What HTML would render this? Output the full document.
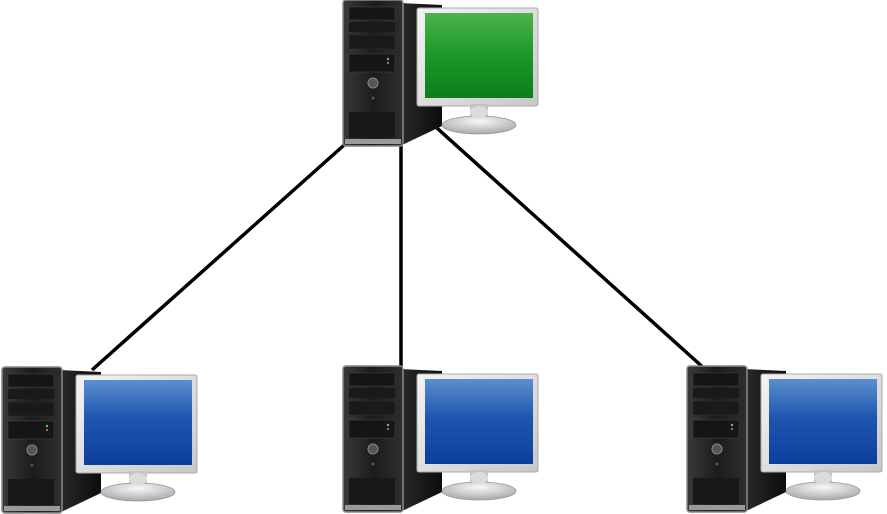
<!DOCTYPE html>
<html><head><meta charset="utf-8"><style>html,body{margin:0;padding:0;background:#fff}svg{display:block}</style></head>
<body>
<svg width="887" height="514" viewBox="0 0 887 514" xmlns="http://www.w3.org/2000/svg">
<defs>
<linearGradient id="side" x1="0" x2="1"><stop offset="0" stop-color="#2a2a2a"/><stop offset="1" stop-color="#0c0c0c"/></linearGradient>
<linearGradient id="front" x1="0" x2="1"><stop offset="0" stop-color="#3a3a3a"/><stop offset="0.5" stop-color="#1c1c1c"/><stop offset="1" stop-color="#2e2e2e"/></linearGradient>
<linearGradient id="frame" x1="0" y1="0" x2="1" y2="1"><stop offset="0" stop-color="#f4f4f4"/><stop offset="1" stop-color="#c8c8c8"/></linearGradient>
<linearGradient id="green" x1="0" y1="0" x2="0" y2="1"><stop offset="0" stop-color="#4db34d"/><stop offset="0.45" stop-color="#1f9a2a"/><stop offset="1" stop-color="#0b7f1a"/></linearGradient>
<linearGradient id="blue" x1="0" y1="0" x2="0" y2="1"><stop offset="0" stop-color="#5b8fcf"/><stop offset="0.45" stop-color="#1f56b0"/><stop offset="1" stop-color="#0c3f9c"/></linearGradient>
<radialGradient id="base" cx="0.5" cy="0.3" r="0.7"><stop offset="0" stop-color="#f8f8f8"/><stop offset="1" stop-color="#a8a8a8"/></radialGradient>
<g id="pc">
  <polygon points="60,3 102,5 102,126 60,146" fill="url(#side)"/>
  <rect x="3" y="0" width="60" height="146" rx="3" fill="url(#front)" stroke="#8a8a8a" stroke-width="1.5"/>
  <rect x="9" y="7" width="46" height="13" fill="#151515" stroke="#444" stroke-width="0.6"/>
  <rect x="9" y="22" width="46" height="10" fill="#1a1a1a"/>
  <rect x="9" y="35" width="46" height="14" fill="#1a1a1a" stroke="#333" stroke-width="0.5"/>
  <rect x="9" y="54" width="46" height="18" fill="#151515" stroke="#444" stroke-width="0.6"/>
  <circle cx="48" cy="59" r="1.2" fill="#5c5"/><circle cx="48" cy="63" r="1.2" fill="#c55"/>
  <circle cx="33" cy="83" r="5" fill="#555" stroke="#888" stroke-width="1"/>
  <circle cx="33" cy="98" r="1.5" fill="#555"/>
  <rect x="9" y="112" width="46" height="26" fill="#181818"/>
  <rect x="5" y="139" width="56" height="5" fill="#9a9a9a"/>
  <rect x="77" y="8" width="121" height="98" rx="2" fill="url(#frame)" stroke="#aaa" stroke-width="1"/>
  <rect x="130" y="104" width="18" height="16" fill="#c4c4c4"/>
  <ellipse cx="139" cy="125" rx="37" ry="9" fill="url(#base)" stroke="#999" stroke-width="0.8"/>
  <ellipse cx="139" cy="112" rx="9" ry="6" fill="#dcdcdc"/>
</g>
</defs>
<g stroke="#000" stroke-width="3.5" fill="none">
<line x1="352" y1="138" x2="92" y2="370"/>
<line x1="401" y1="140" x2="401" y2="368"/>
<line x1="428" y1="120" x2="706" y2="370"/>
</g>
<use href="#pc" x="340" y="0"/>
<rect x="425" y="13" width="108" height="85" fill="url(#green)"/>
<use href="#pc" x="-1" y="367"/>
<rect x="84" y="380" width="108" height="85" fill="url(#blue)"/>
<use href="#pc" x="340" y="366"/>
<rect x="425" y="379" width="108" height="85" fill="url(#blue)"/>
<use href="#pc" x="684" y="366"/>
<rect x="769" y="379" width="108" height="85" fill="url(#blue)"/>
</svg>
</body></html>
